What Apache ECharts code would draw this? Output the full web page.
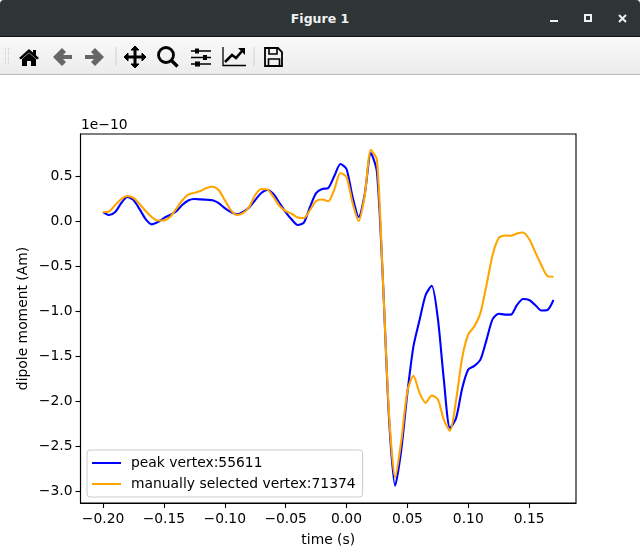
<!DOCTYPE html>
<html>
<head>
<meta charset="utf-8">
<title>Figure 1</title>
<script src="https://cdn.jsdelivr.net/npm/echarts@6/dist/echarts.min.js"></script>
<style>
    html, body { margin: 0; padding: 0; background: #fff; overflow: hidden; }
    body { position: relative; width: 640px; height: 556px; }
    #titlebar {
        position: absolute; left: 0; top: 0; width: 640px; height: 36px;
        background: #2f3437; border-bottom: 1px solid #111; border-radius: 4px 4px 0 0;
        color: #eef1f3; font: bold 12.5px "DejaVu Sans", sans-serif;
        text-align: center; line-height: 38px;
    }
    #toolbar {
        position: absolute; left: 0; top: 37px; width: 640px; height: 37px;
        background: linear-gradient(#f9f9f9, #ececec); border-bottom: 1px solid #b8b8b8;
    }
    #chrome { position: absolute; left: 0; top: 0; }
    #main { position: absolute; left: 0; top: 75px; width: 640px; height: 481px; }
</style>
</head>
<body>
<div id="titlebar">Figure 1</div>
<div id="toolbar"></div>
<svg id="chrome" width="640" height="75">
    <!-- window buttons -->
    <rect x="550" y="20" width="8" height="2" fill="#eef1f3"/>
    <rect x="585" y="15" width="6" height="6" fill="none" stroke="#eef1f3" stroke-width="2"/>
    <path d="M619 15l7 7M626 15l-7 7" stroke="#eef1f3" stroke-width="2"/>
    <!-- grip and separators -->
    <path d="M5.5 48v16M8.5 48v16" stroke="#c4c4c4" stroke-dasharray="1 1.5"/>
    <path d="M116 47v19M254 47v19" stroke="#d0d0d0"/>
    <!-- home -->
    <path d="M19 58l10-9 10 9-2 1.500-8-7-8 7z" fill="#000"/>
    <path d="M22 59l7-6 7 6v7h-5v-5h-4v5h-5z" fill="#000"/>
    <rect x="33" y="50" width="3" height="5" fill="#000"/>
    <!-- back, forward -->
    <path d="M53 57l9-9 4 4-3 3h9v4h-9l3 3-4 4z" fill="#666"/>
    <path d="M104 57l-9-9-4 4 3 3h-9v4h9l-3 3 4 4z" fill="#666"/>
    <!-- move -->
    <path d="M135 46l4 4h-3v6h6v-3l4 4-4 4v-3h-6v6h3l-4 4-4-4h3v-6h-6v3l-4-4 4-4v3h6v-6h-3z" fill="#000" stroke="#000"/>
    <!-- zoom -->
    <circle cx="166" cy="55" r="7.500" fill="none" stroke="#000" stroke-width="2.800"/>
    <path d="M171 60l6.500 6.500" stroke="#000" stroke-width="3.400"/>
    <!-- sliders -->
    <path d="M191 51h20M191 57.500h20M191 64h20" stroke="#000" stroke-width="1.500"/>
    <rect x="195" y="48.500" width="4" height="5" fill="#000"/>
    <rect x="203" y="55" width="4" height="5" fill="#000"/>
    <rect x="195" y="61.500" width="5" height="5" fill="#000"/>
    <!-- chart -->
    <path d="M223 47v18.500h23" fill="none" stroke="#000" stroke-width="1.300"/>
    <path d="M225 62l7-7 4 3 7-8" fill="none" stroke="#000" stroke-width="2.600"/>
    <path d="M238 48h7v7z" fill="#000"/>
    <!-- save -->
    <path d="M265 48h13l4 4v14h-17z" fill="none" stroke="#000" stroke-width="1.800"/>
    <path d="M269 48h8v6h-8zM268.500 59h11v7h-11z" fill="none" stroke="#000" stroke-width="1.600"/>
</svg>
<div id="main"></div>
<script>
    // time in seconds, moments in units of 1e-10 Am
    var times = [
        -0.200, -0.195, -0.190, -0.185, -0.180, -0.175, -0.170, -0.165, -0.160, -0.155,
        -0.150, -0.145, -0.140, -0.135, -0.130, -0.125, -0.120, -0.115, -0.110, -0.105,
        -0.100, -0.095, -0.090, -0.085, -0.080, -0.075, -0.070, -0.065, -0.060, -0.055,
        -0.050, -0.045, -0.040, -0.035, -0.030, -0.025, -0.020, -0.015, -0.010, -0.005,
        0.000, 0.005, 0.010, 0.015, 0.020, 0.025, 0.030, 0.035, 0.040, 0.045,
        0.050, 0.055, 0.060, 0.065, 0.070, 0.075, 0.080, 0.085, 0.090, 0.095,
        0.100, 0.105, 0.110, 0.115, 0.120, 0.125, 0.130, 0.135, 0.140, 0.145,
        0.150, 0.155, 0.160, 0.165, 0.170
    ];
    var peakValues = [
        0.10, 0.067, 0.10, 0.20, 0.267, 0.233, 0.133, 0.022, -0.037, -0.011,
        0.033, 0.067, 0.106, 0.178, 0.228, 0.244, 0.241, 0.236, 0.231, 0.20,
        0.144, 0.10, 0.074, 0.10, 0.15, 0.233, 0.311, 0.344, 0.30, 0.20,
        0.10, 0.017, -0.044, -0.017, 0.156, 0.311, 0.356, 0.367, 0.50, 0.633,
        0.578, 0.267, 0.044, 0.30, 0.756, 0.544, -0.689, -2.21, -2.94, -2.54,
        -1.91, -1.39, -1.10, -0.822, -0.719, -1.08, -1.77, -2.30, -2.19, -1.86,
        -1.65, -1.61, -1.54, -1.32, -1.09, -1.03, -1.04, -1.04, -0.933, -0.867,
        -0.878, -0.933, -0.994, -0.989, -0.878
    ];
    var manualValues = [
        0.10, 0.106, 0.178, 0.244, 0.278, 0.256, 0.189, 0.111, 0.044, 0.006,
        0.006, 0.044, 0.133, 0.228, 0.294, 0.313, 0.333, 0.367, 0.381, 0.344,
        0.233, 0.122, 0.067, 0.089, 0.156, 0.289, 0.356, 0.35, 0.267, 0.167,
        0.111, 0.081, 0.039, 0.033, 0.122, 0.222, 0.239, 0.219, 0.35, 0.533,
        0.489, 0.20, 0.0, 0.289, 0.789, 0.678, -0.689, -2.16, -2.85, -2.44,
        -1.89, -1.72, -1.91, -2.02, -1.94, -1.98, -2.21, -2.33, -1.99, -1.52,
        -1.26, -1.17, -1.02, -0.711, -0.378, -0.189, -0.161, -0.163, -0.139, -0.128,
        -0.20, -0.344, -0.489, -0.611, -0.619
    ];
    var xTicks = [-0.20, -0.15, -0.10, -0.05, 0.00, 0.05, 0.10, 0.15];
    var yTicks = [-3.0, -2.5, -2.0, -1.5, -1.0, -0.5, 0.0, 0.5];

    function pairs(xs, ys) {
        var out = [];
        for (var i = 0; i < xs.length; i++) {
            out.push([xs[i], ys[i]]);
        }
        return out;
    }

    function tickText(digits) {
        return function (value) {
            return value.toFixed(digits).replace('-', '\u2212');
        };
    }

    var FONT = '"DejaVu Sans"';
    var SIZE = 13.89;
    var myChart = echarts.init(document.getElementById('main'), null, { renderer: 'canvas' });

    var axisCommon = {
        type: 'value',
        nameLocation: 'middle',
        nameMoveOverlap: false,
        nameTextStyle: { color: '#000', fontFamily: FONT, fontSize: SIZE },
        splitLine: { show: false },
        axisLine: { show: true, onZero: false, lineStyle: { color: '#000', width: 1.1 } }
    };

    myChart.setOption({
        animation: false,
        backgroundColor: 'transparent',
        grid: {
            left: 80.5, top: 59, width: 495.5, height: 369,
            show: true, borderColor: '#000', borderWidth: 1.1, backgroundColor: '#fff'
        },
        xAxis: echarts.util.extend({
            min: -0.2185,
            max: 0.1885,
            name: 'time (s)',
            nameGap: 30,
            axisTick: { show: true, length: 5, customValues: xTicks, lineStyle: { color: '#000', width: 1.1 } },
            axisLabel: {
                customValues: xTicks, formatter: tickText(2), margin: 9,
                color: '#000', fontFamily: FONT, fontSize: SIZE
            }
        }, axisCommon),
        yAxis: echarts.util.extend({
            min: -3.133,
            max: 0.967,
            name: 'dipole moment (Am)',
            nameGap: 50,
            axisTick: { show: true, length: 5, customValues: yTicks, lineStyle: { color: '#000', width: 1.1 } },
            axisLabel: {
                customValues: yTicks, formatter: tickText(1), margin: 8, padding: [2, 0, 0, 0],
                color: '#000', fontFamily: FONT, fontSize: SIZE
            }
        }, axisCommon),
        legend: {
            orient: 'vertical',
            left: 87,
            top: 375,
            padding: [6, 7, 6, 5],
            icon: 'rect',
            itemWidth: 29,
            itemHeight: 2,
            itemGap: 7,
            selectedMode: false,
            backgroundColor: 'rgba(255,255,255,0.8)',
            borderColor: '#ccc',
            borderWidth: 1,
            borderRadius: 3,
            textStyle: { color: '#000', fontFamily: FONT, fontSize: SIZE, padding: [0, 0, 0, 5] },
            data: ['peak vertex:55611', 'manually selected vertex:71374']
        },
        graphic: [{
            type: 'text',
            left: 81,
            top: 43,
            style: { text: '1e\u221210', fill: '#000', font: SIZE + 'px ' + FONT }
        }],
        series: [
            {
                name: 'peak vertex:55611',
                type: 'line',
                data: pairs(times, peakValues),
                symbol: 'none',
                smooth: 0.25,
                lineStyle: { color: '#0000ff', width: 2.1 },
                itemStyle: { color: '#0000ff' }
            },
            {
                name: 'manually selected vertex:71374',
                type: 'line',
                data: pairs(times, manualValues),
                symbol: 'none',
                smooth: 0.25,
                lineStyle: { color: '#ffa500', width: 2.1 },
                itemStyle: { color: '#ffa500' }
            }
        ]
    });
</script>
</body>
</html>
